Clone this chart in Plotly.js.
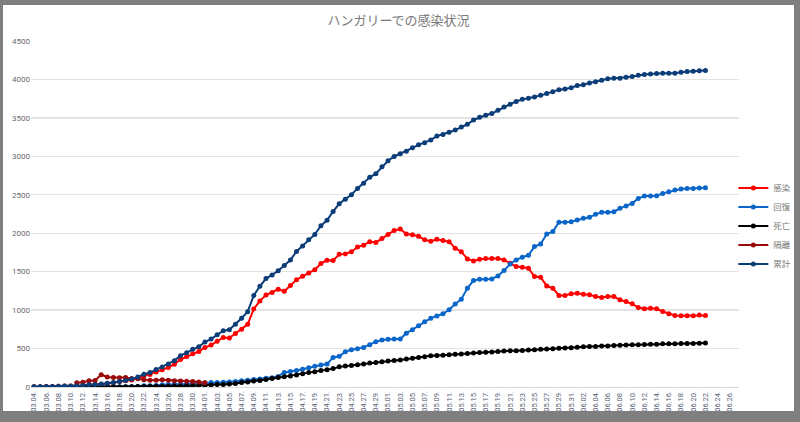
<!DOCTYPE html>
<html>
<head>
<meta charset="utf-8">
<script src="https://cdn.plot.ly/plotly-3.0.1.min.js"></script>
<style>
html,body{margin:0;padding:0;background:#7f7f7f;width:800px;height:422px;overflow:hidden;}
#chart{position:absolute;left:3px;top:5px;width:791px;height:406px;background:#fff;}
</style>
</head>
<body>
<div id="chart"></div>
<script>
// Category axis (dates), including the empty slots at the right end
const categories = [
"03.04.","03.05.","03.06.","03.07.","03.08.","03.09.","03.10.","03.11.","03.12.","03.13.",
"03.14.","03.15.","03.16.","03.17.","03.18.","03.19.","03.20.","03.21.","03.22.","03.23.",
"03.24.","03.25.","03.26.","03.27.","03.28.","03.29.","03.30.","03.31.","04.01.","04.02.",
"04.03.","04.04.","04.05.","04.06.","04.07.","04.08.","04.09.","04.10.","04.11.","04.12.",
"04.13.","04.14.","04.15.","04.16.","04.17.","04.18.","04.19.","04.20.","04.21.","04.22.",
"04.23.","04.24.","04.25.","04.26.","04.27.","04.28.","04.29.","04.30.","05.01.","05.02.",
"05.03.","05.04.","05.05.","05.06.","05.07.","05.08.","05.09.","05.10.","05.11.","05.12.",
"05.13.","05.14.","05.15.","05.16.","05.17.","05.18.","05.19.","05.20.","05.21.","05.22.",
"05.23.","05.24.","05.25.","05.26.","05.27.","05.28.","05.29.","05.30.","05.31.","06.01.",
"06.02.","06.03.","06.04.","06.05.","06.06.","06.07.","06.08.","06.09.","06.10.","06.11.",
"06.12.","06.13.","06.14.","06.15.","06.16.","06.17.","06.18.","06.19.","06.20.","06.21.",
"06.22.","06.23.","06.24.","06.25.","06.26.","06.27."
];
// Tick labels shown (every other day)
const tickLabels = [
"03.04.","03.06.","03.08.","03.10.","03.12.","03.14.","03.16.","03.18.","03.20.","03.22.",
"03.24.","03.26.","03.28.","03.30.","04.01.","04.03.","04.05.","04.07.","04.09.","04.11.",
"04.13.","04.15.","04.17.","04.19.","04.21.","04.23.","04.25.","04.27.","04.29.","05.01.",
"05.03.","05.05.","05.07.","05.09.","05.11.","05.13.","05.15.","05.17.","05.19.","05.21.",
"05.23.","05.25.","05.27.","05.29.","05.31.","06.02.","06.04.","06.06.","06.08.","06.10.",
"06.12.","06.14.","06.16.","06.18.","06.20.","06.22.","06.24.","06.26."
];

// 感染 (active)
const active = [
2,4,7,7,9,12,13,16,19,29,
31,37,47,55,70,80,92,118,144,162,
195,223,255,296,358,396,433,463,515,545,
595,645,638,695,750,815,1015,1120,1195,1228,
1270,1245,1320,1395,1440,1482,1525,1605,1650,1645,
1725,1730,1760,1820,1845,1890,1880,1930,1985,2035,
2055,1990,1980,1960,1915,1895,1920,1905,1890,1805,
1760,1665,1640,1662,1670,1670,1670,1653,1610,1566,
1558,1545,1437,1428,1315,1285,1190,1190,1212,1220,
1207,1199,1177,1164,1177,1177,1134,1112,1082,1034,
1017,1025,1017,982,952,930,926,926,926,935,
930
];
// 回復 (recovered)
const recovered = [
0,0,0,0,0,0,0,0,0,1,
1,1,2,2,2,2,7,7,16,16,
21,28,34,34,37,37,43,48,54,58,
58,62,66,72,80,88,98,105,115,120,
138,190,200,215,230,250,270,285,298,385,
400,460,485,498,515,550,590,612,622,624,
625,700,745,795,850,895,925,952,1004,1080,
1142,1285,1385,1400,1402,1406,1445,1514,1601,1653,
1688,1714,1826,1861,1990,2021,2142,2142,2150,2172,
2194,2207,2246,2272,2272,2280,2324,2354,2388,2453,
2484,2484,2488,2518,2540,2562,2575,2583,2583,2588,
2592
];
// 死亡 (deaths)
const deaths = [
0,0,0,0,0,0,0,0,0,0,
0,1,1,1,1,3,4,6,7,9,
10,10,11,13,13,15,16,20,21,26,
32,34,38,47,58,66,77,85,99,109,
122,134,142,156,172,189,199,213,225,239,
262,272,280,291,300,312,320,330,338,345,
351,363,373,383,392,405,410,413,421,425,
430,436,442,448,451,455,462,467,470,473,
476,482,484,491,494,499,505,507,512,518,
524,526,527,532,534,539,543,546,548,551,
553,555,556,561,563,564,565,565,567,568,
572
];
// 隔離 (quarantine) – only 03.11. to 04.01.
const quarantine = [
null,null,null,null,null,null,null,55,62,80,
85,160,130,122,120,122,110,108,95,88,
88,95,88,82,78,74,70,65,56
];
// 累計 (cumulative)
const cumulative = [
2,4,7,7,9,12,13,16,19,30,
32,39,50,58,73,85,103,131,167,187,
226,261,300,343,408,447,492,525,585,623,
678,733,744,817,895,980,1190,1310,1410,1458,
1512,1579,1652,1763,1834,1916,1984,2098,2168,2284,
2383,2443,2500,2583,2649,2727,2775,2863,2942,2998,
3035,3065,3111,3150,3178,3213,3263,3284,3313,3341,
3380,3417,3473,3509,3535,3556,3598,3641,3678,3713,
3741,3756,3771,3793,3816,3841,3867,3876,3892,3921,
3931,3954,3970,3990,4008,4014,4017,4027,4039,4053,
4064,4070,4077,4079,4081,4081,4094,4102,4107,4114,
4115
];

const seriesNames = ["感染","回復","死亡","隔離","累計"];
const seriesColors = ["#ff0000","#0a66c8","#000000","#9c0b0b","#0b3d78"];
const seriesValues = [active, recovered, deaths, quarantine, cumulative];

const traces = seriesValues.map((vals, k) => ({
  type: "scatter",
  mode: "lines+markers",
  name: seriesNames[k],
  x: categories.slice(0, vals.length),
  y: vals,
  line: {color: seriesColors[k], width: 2},
  marker: {color: seriesColors[k], size: 5, symbol: "circle"},
  connectgaps: false,
  hoverinfo: "skip"
}));

const fontFam = "'Noto Sans CJK JP', 'Noto Sans', sans-serif";
const tickFam = "'Liberation Sans Narrow', 'Roboto', 'Noto Sans', sans-serif";

const layout = {
  width: 791,
  height: 406,
  paper_bgcolor: "#ffffff",
  plot_bgcolor: "#ffffff",
  margin: {l: 28, r: 55, t: 36, b: 24, autoexpand: false},
  title: {
    text: "ハンガリーでの感染状況",
    font: {family: fontFam, size: 13, color: "#7a7a7a"},
    x: 0.5, xanchor: "center", y: 0.962, yanchor: "middle"
  },
  showlegend: true,
  legend: {
    x: 0.992, xanchor: "left",
    y: 0.465, yanchor: "middle",
    font: {family: fontFam, size: 8.5, color: "#7a7a7a"},
    itemwidth: 30,
    bgcolor: "rgba(0,0,0,0)"
  },
  xaxis: {
    type: "category",
    categoryorder: "array",
    categoryarray: categories,
    range: [-0.5, categories.length - 0.5],
    tickmode: "array",
    tickvals: tickLabels,
    ticktext: tickLabels,
    tickangle: -90,
    tickfont: {family: tickFam, size: 7.5, color: "#5a6478"},
    showgrid: false,
    showline: true,
    linecolor: "#d9d9d9",
    linewidth: 1,
    ticks: "",
    zeroline: false,
    automargin: false,
    fixedrange: true
  },
  yaxis: {
    range: [0, 4500],
    tickmode: "linear",
    tick0: 0,
    dtick: 500,
    tickfont: {family: tickFam, size: 8, color: "#6a6a6a"},
    showgrid: true,
    gridcolor: "#e3e3e3",
    gridwidth: 1.3,
    zeroline: false,
    showline: false,
    ticks: "",
    automargin: false,
    fixedrange: true
  }
};

Plotly.newPlot("chart", traces, layout, {displayModeBar: false, staticPlot: true});
</script>
</body>
</html>
